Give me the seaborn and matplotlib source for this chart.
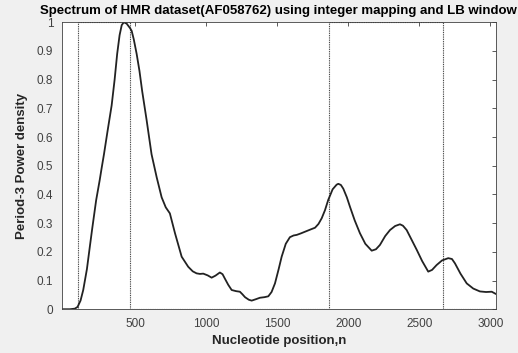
import matplotlib as mpl
mpl.use('Agg')
import matplotlib.pyplot as plt
import numpy as np
import pandas as pd
import seaborn as sns

# spectrum values (nucleotide position, normalised power)
position = [-18, 40, 75, 94, 115, 134, 160, 181, 197, 225, 250, 263, 280, 305, 334,
            355, 373, 390, 405, 420, 440, 455, 463, 475, 490, 510, 530, 549,
            580, 615, 651, 686, 715, 744, 780, 827, 873, 905, 932, 956, 979,
            1010, 1038, 1065, 1096, 1115, 1132, 1155, 1179, 1210, 1237, 1255, 1273,
            1300, 1320, 1350, 1378, 1410, 1437, 1460, 1484, 1510, 1531, 1560, 1589,
            1615, 1637, 1665, 1695, 1735, 1766, 1790, 1813, 1836, 1859, 1890, 1918,
            1930, 1948, 1965, 1990, 2012, 2045, 2082, 2120, 2165, 2195, 2223, 2260,
            2294, 2330, 2364, 2385, 2411, 2445, 2482, 2520, 2563, 2590, 2622, 2660,
            2704, 2730, 2751, 2790, 2834, 2880, 2927, 2970, 3010, 3040]
power = [0.0, 0.0, 0.002, 0.008, 0.03, 0.067, 0.14, 0.22, 0.28, 0.38, 0.45, 0.49,
         0.54, 0.62, 0.71, 0.80, 0.89, 0.955, 0.99, 1.0, 0.995, 0.985, 0.98, 0.97,
         0.94, 0.89, 0.83, 0.76, 0.66, 0.54, 0.46, 0.39, 0.355, 0.334, 0.265,
         0.183, 0.148, 0.132, 0.125, 0.123, 0.124, 0.118, 0.11, 0.117, 0.128,
         0.122, 0.106, 0.085, 0.067, 0.063, 0.061, 0.052, 0.042, 0.033, 0.03,
         0.035, 0.04, 0.042, 0.045, 0.06, 0.09, 0.14, 0.183, 0.228, 0.251,
         0.257, 0.259, 0.264, 0.27, 0.278, 0.284, 0.297, 0.317, 0.345, 0.381,
         0.418, 0.434, 0.437, 0.433, 0.42, 0.39, 0.357, 0.31, 0.265, 0.228,
         0.204, 0.209, 0.224, 0.255, 0.276, 0.29, 0.296, 0.291, 0.276, 0.243,
         0.207, 0.168, 0.131, 0.137, 0.154, 0.17, 0.178, 0.175, 0.16, 0.124,
         0.09, 0.072, 0.062, 0.06, 0.061, 0.053]

# rectangular window marking the coding regions
window_pos = [94, 94, 465, 465, 1864, 1864, 2669, 2669, 3040]
window_val = [0, 1, 1, 0, 0, 1, 1, 0, 0]

y_ticks = np.round(np.arange(0, 1.01, 0.1), 1)
y_labels = ['0'] + [f'{v:g}' for v in y_ticks[1:-1]] + ['1']
x_ticks = [500, 1000, 1500, 2000, 2500, 3000]

sns.set_style('white')
plt.rcParams['font.family'] = ['Liberation Sans', 'DejaVu Sans']

fig = plt.figure(figsize=(5.18, 3.53), dpi=100, facecolor='#f0f0f0')
ax = fig.add_axes([0.119, 0.124, 0.8385, 0.813])
ax.set_facecolor('white')

spec = pd.DataFrame({'n': position, 'p': power})
win = pd.DataFrame({'n': window_pos, 'w': window_val})

sns.lineplot(data=win, x='n', y='w', ax=ax, estimator=None, sort=False,
             color='#333333', linestyle=(0, (0.8, 0.8)), linewidth=0.8)
sns.lineplot(data=spec, x='n', y='p', ax=ax, estimator=None, sort=False,
             color='#222222', linewidth=1.3)

ax.set_xlim(-18, 3040)
ax.set_ylim(0, 1)
ax.set_xticks(x_ticks)
ax.set_yticks(y_ticks)
ax.set_yticklabels(y_labels)
ax.tick_params(direction='in', length=3, width=0.6, colors='#404040',
               labelsize=8.5, top=True, right=True, pad=6)
for s in ax.spines.values():
    s.set_color('#404040')
    s.set_linewidth(0.6)

ax.set_title('Spectrum of HMR dataset(AF058762) using integer mapping and LB window',
             fontsize=9.5, fontweight='bold', pad=6, color='black')
ax.set_xlabel('Nucleotide position,n', fontsize=9.5, fontweight='bold', color='#262626')
ax.set_ylabel('Period-3 Power density', fontsize=9.5, fontweight='bold', color='#262626',
              labelpad=6)

fig.savefig('out.png', dpi=100, facecolor=fig.get_facecolor())
